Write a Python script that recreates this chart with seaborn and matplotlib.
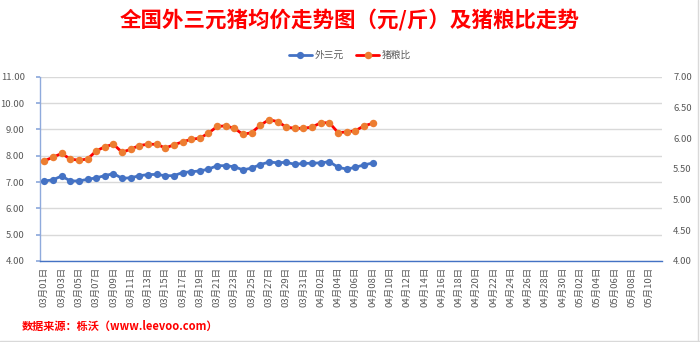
import numpy as np
import pandas as pd
import matplotlib
matplotlib.use("Agg")
import matplotlib.pyplot as plt
from matplotlib.lines import Line2D
import seaborn as sns

sns.set_theme(style="white")
plt.rcParams["font.family"] = ["Noto Sans CJK SC", "DejaVu Sans"]

# Daily categories on the x axis (03-01 .. 05-11)
dates = pd.date_range("2021-03-01", "2021-05-11", freq="D")
date_labels = [f"{d.month:02d}月{d.day:02d}日" for d in dates]

# 外三元 average price (元/斤), left axis
price_wsy = [7.04, 7.08, 7.23, 7.04, 7.04, 7.10, 7.16, 7.24, 7.32, 7.14,
             7.16, 7.24, 7.28, 7.29, 7.24, 7.24, 7.36, 7.39, 7.42, 7.49,
             7.62, 7.62, 7.58, 7.46, 7.53, 7.66, 7.76, 7.73, 7.75, 7.67,
             7.71, 7.71, 7.73, 7.77, 7.56, 7.49, 7.56, 7.65, 7.72]

# 猪粮比 (hog-to-grain ratio), right axis
hog_grain = [5.63, 5.69, 5.75, 5.66, 5.64, 5.66, 5.79, 5.86, 5.90, 5.77,
             5.82, 5.88, 5.90, 5.90, 5.84, 5.89, 5.94, 5.98, 6.00, 6.08,
             6.19, 6.20, 6.16, 6.06, 6.09, 6.21, 6.30, 6.27, 6.18, 6.16,
             6.16, 6.18, 6.25, 6.25, 6.09, 6.10, 6.12, 6.20, 6.24]

left_ticks = [4, 5, 6, 7, 8, 9, 10, 11]
right_ticks = [4.0, 4.5, 5.0, 5.5, 6.0, 6.5, 7.0]

BLUE = "#4472C4"
RED = "#FF0000"
ORANGE = "#ED7D31"
GRAY_TXT = "#595959"
GRID = "#D9D9D9"
SPINE = "#8FAADC"

df = pd.DataFrame({
    "pos": np.arange(len(price_wsy)),
    "外三元": price_wsy,
    "猪粮比": hog_grain,
})

fig = plt.figure(figsize=(7.0, 3.42), dpi=100)
ax = fig.add_axes([40 / 700, 1 - 261 / 342, 622 / 700, (261 - 76.7) / 342])
ax2 = ax.twinx()

sns.lineplot(data=df, x="pos", y="外三元", ax=ax, color=BLUE, linewidth=2.0,
             marker="o", markersize=5.2, markeredgewidth=0, zorder=3)
sns.lineplot(data=df, x="pos", y="猪粮比", ax=ax2, color=RED, linewidth=2.0,
             marker="o", markersize=5.4, markerfacecolor=ORANGE,
             markeredgewidth=0, zorder=3)

n = len(date_labels)
for a in (ax, ax2):
    a.set_xlim(-0.5, n - 0.5)
    a.set_xlabel("")
    a.set_ylabel("")

ax.set_ylim(4, 11)
ax.set_yticks(left_ticks)
ax.set_yticklabels([f"{v:.2f}" for v in left_ticks])
ax2.set_ylim(4, 7)
ax2.set_yticks(right_ticks)
ax2.set_yticklabels([f"{v:.2f}" for v in right_ticks])

ax.yaxis.grid(True, color=GRID, linewidth=1.0)
ax.set_axisbelow(True)

# Category labels every second day; tick marks on category boundaries
ax.set_xticks(np.arange(0, n, 2))
ax.set_xticklabels(date_labels[::2], rotation=90)
ax.set_xticks(np.arange(-0.5, n, 2), minor=True)
ax.tick_params(axis="x", which="major", length=0, pad=4,
               labelsize=6.8, labelcolor=GRAY_TXT)
ax.tick_params(axis="x", which="minor", length=3, color=BLUE, width=1,
               direction="out")
ax.tick_params(axis="y", length=3, color=SPINE, pad=8,
               labelsize=6.8, labelcolor=GRAY_TXT)
ax2.tick_params(axis="y", length=0, pad=8, labelsize=6.8, labelcolor=GRAY_TXT)

for a in (ax, ax2):
    for s in a.spines.values():
        s.set_visible(False)
ax.spines["bottom"].set_visible(True)
ax.spines["bottom"].set_color(BLUE)
ax.spines["bottom"].set_linewidth(1.0)
ax.spines["left"].set_visible(True)
ax.spines["left"].set_color(SPINE)
ax.spines["left"].set_linewidth(1.0)

fig.text(0.5, 1 - 20 / 342, "全国外三元猪均价走势图（元/斤）及猪粮比走势",
         ha="center", va="center", color=RED, fontsize=15.5, fontweight="bold")

handles = [
    Line2D([0], [0], color=BLUE, linewidth=2.0, marker="o", markersize=5.2,
           markeredgewidth=0),
    Line2D([0], [0], color=RED, linewidth=2.0, marker="o", markersize=5.4,
           markerfacecolor=ORANGE, markeredgewidth=0),
]
fig.legend(handles, ["外三元", "猪粮比"], loc="center",
           bbox_to_anchor=(0.5, 1 - 55 / 342), ncol=2, frameon=False,
           fontsize=7, labelcolor=GRAY_TXT, handlelength=2.4,
           handletextpad=0.3, columnspacing=1.2)

fig.text(22 / 700, 1 - 326 / 342, "数据来源：栎沃（www.leevoo.com）",
         ha="left", va="center", color=RED, fontsize=8, fontweight="bold")

# Thin frame edges at the right and bottom of the chart area
fig.add_artist(Line2D([0, 1], [0.003, 0.003], transform=fig.transFigure,
                      color="#D9D9D9", linewidth=1))
fig.add_artist(Line2D([0.997, 0.997], [0, 1], transform=fig.transFigure,
                      color="#D9D9D9", linewidth=1))

fig.savefig("out.png", dpi=100)
